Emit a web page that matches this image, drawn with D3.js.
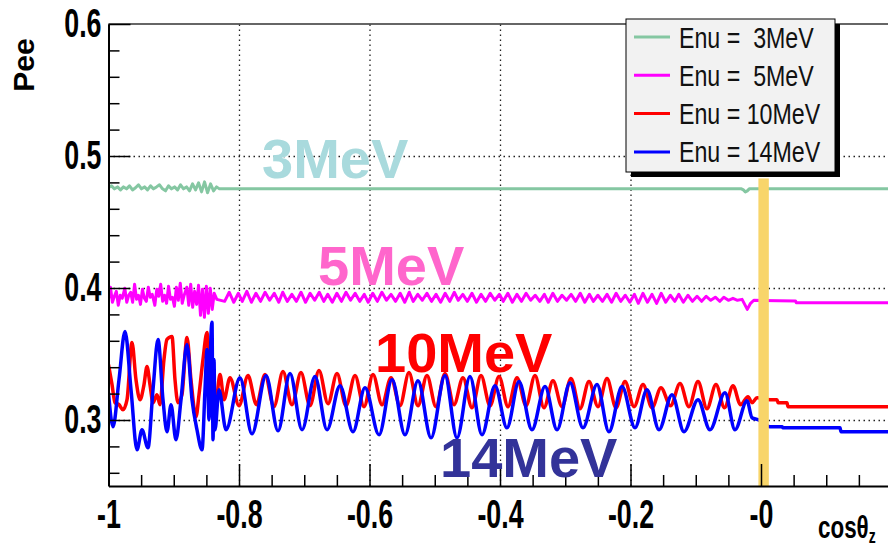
<!DOCTYPE html>
<html><head><meta charset="utf-8">
<script src="https://cdn.jsdelivr.net/npm/d3@7"></script>
<style>body{margin:0;background:#fff}svg{display:block}text{font-family:"Liberation Sans",Arial,sans-serif}</style>
</head><body><svg id="c" width="888" height="549"></svg>
<script>
// ---------------- data ----------------
const xTicks = [-1, -0.8, -0.6, -0.4, -0.2, 0];
const xTickLabels = ["-1", "-0.8", "-0.6", "-0.4", "-0.2", "-0"];
const yTicks = [0.3, 0.4, 0.5, 0.6];
const yTickLabels = ["0.3", "0.4", "0.5", "0.6"];
const xMinor = [-0.95,-0.9,-0.85,-0.75,-0.7,-0.65,-0.55,-0.5,-0.45,-0.35,-0.3,-0.25,-0.15,-0.1,-0.05,0.05,0.1,0.15];
const yMinor = [0.26,0.28,0.32,0.34,0.36,0.38,0.42,0.44,0.46,0.48,0.52,0.54,0.56,0.58];
const xGrid = [-0.8, -0.6, -0.4, -0.2, 0];
const yGrid = [0.3, 0.4, 0.5];
const highlightBand = [-0.004, 0.012];   // yellow band (cos range)
const highlightTop = 0.483;

const seriesNames = ["Enu =  3MeV", "Enu =  5MeV", "Enu = 10MeV", "Enu = 14MeV"];
const seriesColors = ["#85c7a2", "#ff00ff", "#ff0000", "#0000ff"];
const bigLabels = ["3MeV", "5MeV", "10MeV", "14MeV"];
const bigLabelColors = ["#a9dadd", "#ff66cc", "#ff0000", "#333399"];

const pee3 = [[-1,0.4759],[-0.9954,0.4774],[-0.9908,0.4751],[-0.9862,0.4766],[-0.9816,0.4743],[-0.977,0.4766],[-0.9724,0.4751],[-0.9678,0.4774],[-0.9632,0.4743],[-0.9586,0.4759],[-0.954,0.4782],[-0.9494,0.4751],[-0.9448,0.4766],[-0.9402,0.4743],[-0.9356,0.4774],[-0.931,0.4751],[-0.9264,0.4766],[-0.9218,0.4782],[-0.9172,0.4751],[-0.9126,0.4736],[-0.908,0.4774],[-0.9034,0.4751],[-0.8988,0.4766],[-0.8942,0.4743],[-0.8896,0.4782],[-0.885,0.4751],[-0.8804,0.4766],[-0.8758,0.4736],[-0.8712,0.4789],[-0.8666,0.4743],[-0.862,0.4797],[-0.8574,0.4728],[-0.8528,0.4804],[-0.8482,0.4721],[-0.8436,0.4789],[-0.839,0.4736],[-0.8344,0.4766],[-0.83,0.4751],[-0.03,0.4751],[-0.027,0.4743],[-0.024,0.4728],[-0.021,0.4736],[-0.018,0.4751],[0.2,0.4751]];

const pee5 = [[-1,0.3914],[-0.997,0.4006],[-0.994,0.3892],[-0.991,0.3937],[-0.988,0.3975],[-0.985,0.3869],[-0.982,0.3945],[-0.979,0.3922],[-0.975,0.3998],[-0.972,0.3892],[-0.969,0.3945],[-0.966,0.3968],[-0.963,0.3892],[-0.960,0.4029],[-0.957,0.3914],[-0.954,0.3945],[-0.951,0.3876],[-0.948,0.3990],[-0.945,0.3922],[-0.942,0.3899],[-0.939,0.4006],[-0.936,0.3930],[-0.933,0.3952],[-0.929,0.3869],[-0.926,0.3990],[-0.923,0.3937],[-0.920,0.4029],[-0.917,0.3899],[-0.914,0.3945],[-0.911,0.3884],[-0.908,0.4013],[-0.905,0.3914],[-0.902,0.3930],[-0.899,0.3861],[-0.896,0.4006],[-0.893,0.3907],[-0.890,0.4036],[-0.887,0.3884],[-0.884,0.3945],[-0.880,0.4006],[-0.877,0.3869],[-0.874,0.4029],[-0.871,0.3854],[-0.868,0.3975],[-0.865,0.3876],[-0.862,0.4021],[-0.859,0.3793],[-0.856,0.3990],[-0.853,0.3778],[-0.850,0.4013],[-0.847,0.3808],[-0.844,0.3998],[-0.841,0.3838],[-0.838,0.3960],[-0.834,0.3914],
[-0.822,0.3899],[-0.815,0.3968],[-0.808,0.3892],[-0.801,0.3960],[-0.795,0.3899],[-0.788,0.3975],[-0.781,0.3892],[-0.774,0.3960],[-0.767,0.3899],[-0.760,0.3968],[-0.753,0.3907],[-0.746,0.3960],[-0.739,0.3892],[-0.733,0.3968],[-0.726,0.3899],[-0.719,0.3952],[-0.712,0.3899],[-0.705,0.3968],[-0.698,0.3892],[-0.691,0.3960],[-0.684,0.3907],[-0.677,0.3968],[-0.670,0.3899],[-0.664,0.3952],[-0.657,0.3892],[-0.650,0.3960],[-0.643,0.3899],[-0.636,0.3968],[-0.629,0.3907],[-0.622,0.3960],[-0.615,0.3899],[-0.608,0.3952],[-0.602,0.3892],[-0.595,0.3960],[-0.588,0.3899],[-0.581,0.3968],[-0.574,0.3907],[-0.567,0.3952],[-0.560,0.3899],[-0.553,0.3960],[-0.546,0.3892],[-0.539,0.3968],[-0.533,0.3899],[-0.526,0.3952],[-0.519,0.3907],[-0.512,0.3960],[-0.505,0.3899],[-0.498,0.3952],[-0.491,0.3892],[-0.484,0.3960],[-0.477,0.3899],[-0.470,0.3968],[-0.464,0.3907],[-0.457,0.3952],[-0.450,0.3899],[-0.443,0.3960],[-0.436,0.3892],[-0.429,0.3952],[-0.422,0.3899],[-0.415,0.3960],[-0.408,0.3907],[-0.401,0.3952],[-0.395,0.3899],[-0.388,0.3960],[-0.381,0.3892],[-0.374,0.3952],[-0.367,0.3899],[-0.360,0.3960],[-0.353,0.3907],[-0.346,0.3945],[-0.339,0.3899],[-0.332,0.3952],[-0.326,0.3892],[-0.319,0.3960],[-0.312,0.3899],[-0.305,0.3945],[-0.298,0.3907],[-0.291,0.3952],[-0.284,0.3899],[-0.277,0.3960],[-0.270,0.3892],[-0.263,0.3952],[-0.257,0.3899],[-0.250,0.3945],[-0.243,0.3899],[-0.236,0.3952],[-0.229,0.3892],[-0.222,0.3960],[-0.215,0.3899],[-0.208,0.3945],[-0.201,0.3892],[-0.194,0.3952],[-0.188,0.3884],[-0.181,0.3960],[-0.174,0.3892],[-0.167,0.3952],[-0.160,0.3884],[-0.153,0.3960],[-0.146,0.3892],[-0.139,0.3945],[-0.132,0.3899],[-0.126,0.3952],[-0.119,0.3892],[-0.112,0.3945],[-0.105,0.3899],[-0.098,0.3937],[-0.091,0.3899],[-0.084,0.3937],[-0.077,0.3907],[-0.070,0.3930],[-0.063,0.3899],[-0.057,0.3930],[-0.050,0.3907],[-0.043,0.3922],[-0.036,0.3907],[-0.029,0.3914],
[-0.021,0.3838],[-0.016,0.3884],[-0.011,0.3907],[0.053,0.3902],[0.054,0.3889],[0.2,0.3889]];

const pee10 = [[-1,0.3420],[-0.9946,0.3268],[-0.9900,0.3131],[-0.9839,0.3116],[-0.9778,0.3078],[-0.9716,0.3154],[-0.9640,0.3587],[-0.9579,0.3306],[-0.9517,0.3154],[-0.9456,0.3268],[-0.9410,0.3405],[-0.9364,0.3268],[-0.9318,0.3131],[-0.9257,0.3192],[-0.9211,0.3116],[-0.9150,0.3458],[-0.9104,0.3610],[-0.9027,0.3633],[-0.8981,0.3306],[-0.8935,0.3131],[-0.8874,0.3192],[-0.8797,0.3625],[-0.8736,0.3306],[-0.8659,0.3025],[-0.8613,0.3192],[-0.8552,0.3458],[-0.8490,0.3663],[-0.8444,0.3192],[-0.8398,0.3283],[-0.8352,0.3154],[-0.8291,0.3344],[-0.8230,0.3154],
[-0.8138,0.3321],[-0.8000,0.3108],[-0.7862,0.3337],[-0.7732,0.3116],[-0.7602,0.3344],[-0.7464,0.3101],[-0.7326,0.3367],[-0.7188,0.3116],[-0.7050,0.3359],[-0.6912,0.3108],[-0.6774,0.3375],[-0.6636,0.3124],[-0.6498,0.3352],[-0.6360,0.3108],[-0.6222,0.3337],[-0.6084,0.3101],[-0.5946,0.3344],[-0.5808,0.3116],[-0.5670,0.3321],[-0.5533,0.3108],[-0.5395,0.3359],[-0.5257,0.3108],[-0.5119,0.3337],[-0.4981,0.3101],[-0.4843,0.3352],[-0.4705,0.3116],[-0.4567,0.3321],[-0.4429,0.3093],[-0.4291,0.3337],[-0.4153,0.3108],[-0.4015,0.3329],[-0.3877,0.3101],[-0.3739,0.3321],[-0.3601,0.3108],[-0.3464,0.3337],[-0.3326,0.3093],[-0.3188,0.3298],[-0.3050,0.3101],[-0.2912,0.3314],[-0.2774,0.3086],[-0.2636,0.3291],[-0.2498,0.3101],[-0.2360,0.3314],[-0.2222,0.3093],[-0.2084,0.3291],[-0.1946,0.3101],[-0.1808,0.3268],[-0.1670,0.3093],[-0.1533,0.3245],[-0.1387,0.3108],[-0.1241,0.3276],[-0.1104,0.3101],[-0.0966,0.3291],[-0.0828,0.3086],[-0.0690,0.3268],[-0.0559,0.3093],[-0.0429,0.3260],[-0.0314,0.3116],[-0.0199,0.3177],
[-0.0138,0.3131],[-0.0061,0.3169],[0.0138,0.3154],[0.0245,0.3154],[0.0261,0.3131],[0.0398,0.3131],[0.0414,0.3101],[0.2,0.3101]];

const pee14 = [[-1,0.3207],[-0.9931,0.2949],[-0.9839,0.3306],[-0.9747,0.3671],[-0.9655,0.3230],[-0.9563,0.2774],[-0.9487,0.2926],[-0.9395,0.2789],[-0.9318,0.3230],[-0.9241,0.3610],[-0.9165,0.3154],[-0.9103,0.2911],[-0.9042,0.3116],[-0.8966,0.2850],[-0.8889,0.3154],[-0.8797,0.3572],[-0.8720,0.3154],[-0.8644,0.2926],[-0.8567,0.2774],[-0.8521,0.3230],[-0.8490,0.3534],[-0.8460,0.3002],[-0.8429,0.3648],[-0.8414,0.3740],[-0.8398,0.2850],[-0.8383,0.3458],[-0.8368,0.2926],[-0.8307,0.3230],[-0.8199,0.2926],
[-0.7985,0.3321],[-0.7801,0.2895],[-0.7586,0.3337],[-0.7402,0.2918],[-0.7218,0.3352],[-0.7034,0.2926],[-0.6835,0.3329],[-0.6651,0.2926],[-0.6452,0.3260],[-0.6253,0.2911],[-0.6069,0.3245],[-0.5854,0.2888],[-0.5655,0.3306],[-0.5456,0.2888],[-0.5257,0.3298],[-0.5057,0.2865],[-0.4843,0.3337],[-0.4659,0.2865],[-0.4460,0.3329],[-0.4276,0.2888],[-0.4077,0.3260],[-0.3893,0.2941],[-0.3709,0.3291],[-0.3510,0.2926],[-0.3310,0.3253],[-0.3126,0.2926],[-0.2927,0.3283],[-0.2728,0.2941],[-0.2513,0.3268],[-0.2330,0.2911],[-0.2130,0.3253],[-0.1931,0.2941],[-0.1747,0.3230],[-0.1563,0.2926],[-0.1364,0.3192],[-0.1180,0.2911],[-0.0966,0.3154],[-0.0782,0.2926],[-0.0552,0.3207],[-0.0398,0.2926],[-0.0215,0.3146],
[-0.0138,0.3017],[-0.0046,0.3002],[0.0138,0.2949],[0.0322,0.2949],[0.0337,0.2941],[0.1211,0.2941],[0.1226,0.2911],[0.2,0.2911]];

const allSeries = [pee3, pee5, pee10, pee14];

// ---------------- drawing ----------------
const svg = d3.select("#c");
const L = 108.5, R = 891.5, T = 24, B = 486;
const x = d3.scaleLinear().domain([-1, 0.2]).range([L, R]);
const y = d3.scaleLinear().domain([0.25, 0.6]).range([B, T]);

svg.append("defs").append("clipPath").attr("id","clip")
  .append("rect").attr("x", L).attr("y", T).attr("width", 888 - L).attr("height", B - T);

// dotted grid
svg.append("g").attr("transform", `translate(0,${B})`)
  .call(d3.axisBottom(x).tickValues(xGrid).tickSize(-(B - T)).tickFormat(""))
  .call(g => { g.select(".domain").remove();
    g.selectAll("line").attr("stroke", "#222").attr("stroke-width", 1.3).attr("stroke-dasharray", "1.5,3.5"); });
svg.append("g").attr("transform", `translate(${L},0)`)
  .call(d3.axisLeft(y).tickValues(yGrid).tickSize(-(888 - L)).tickFormat(""))
  .call(g => { g.select(".domain").remove();
    g.selectAll("line").attr("stroke", "#222").attr("stroke-width", 1.3).attr("stroke-dasharray", "1.5,3.5"); });

// series lines
const lineLin = d3.line().x(d => x(d[0])).y(d => y(d[1]));
const lineSmooth = d3.line().x(d => x(d[0])).y(d => y(d[1])).curve(d3.curveMonotoneX);
const lg = svg.append("g").attr("clip-path", "url(#clip)");
allSeries.forEach((s, i) => {
  lg.append("path").attr("d", (i < 2 ? lineLin : lineSmooth)(s))
    .attr("fill", "none").attr("stroke", seriesColors[i])
    .attr("stroke-width", i < 2 ? 3 : 3.5).attr("stroke-linejoin", "round");
});

// highlight band
svg.append("rect")
  .attr("x", x(highlightBand[0])).attr("width", x(highlightBand[1]) - x(highlightBand[0]))
  .attr("y", y(highlightTop)).attr("height", y(0.25) - y(highlightTop))
  .attr("fill", "#f8d56a");

// top frame
svg.append("line").attr("x1", L).attr("x2", 888).attr("y1", T).attr("y2", T)
  .attr("stroke", "#333").attr("stroke-width", 1.5);

// minor ticks
svg.append("g").attr("transform", `translate(0,${B})`)
  .call(d3.axisBottom(x).tickValues(xMinor).tickSize(-11).tickSizeOuter(0).tickFormat(""))
  .call(g => { g.select(".domain").remove(); g.selectAll("line").attr("stroke", "#000").attr("stroke-width", 1.5); });
svg.append("g").attr("transform", `translate(${L},0)`)
  .call(d3.axisLeft(y).tickValues(yMinor).tickSize(-11).tickSizeOuter(0).tickFormat(""))
  .call(g => { g.select(".domain").remove(); g.selectAll("line").attr("stroke", "#000").attr("stroke-width", 1.5); });

// major axes
const sx = 0.67;
const xAxisG = svg.append("g").attr("transform", `translate(0,${B})`)
  .call(d3.axisBottom(x).tickValues(xTicks).tickSize(-22).tickSizeOuter(0).tickPadding(14)
    .tickFormat((d, i) => xTickLabels[i]));
xAxisG.select(".domain").attr("stroke", "#000").attr("stroke-width", 2);
xAxisG.selectAll(".tick line").attr("stroke", "#000").attr("stroke-width", 1.5);
xAxisG.selectAll(".tick text").attr("font-size", 40).attr("font-weight", "bold").attr("fill", "#000")
  .attr("font-family", "'Liberation Sans',Arial,sans-serif")
  .attr("transform", `scale(${sx},1)`);

const yAxisG = svg.append("g").attr("transform", `translate(${L},0)`)
  .call(d3.axisLeft(y).tickValues(yTicks).tickSize(-22).tickSizeOuter(0).tickPadding(7)
    .tickFormat((d, i) => yTickLabels[i]));
yAxisG.select(".domain").attr("stroke", "#000").attr("stroke-width", 2);
yAxisG.selectAll(".tick line").attr("stroke", "#000").attr("stroke-width", 1.5);
yAxisG.selectAll(".tick text").attr("font-size", 40).attr("font-weight", "bold").attr("fill", "#000")
  .attr("font-family", "'Liberation Sans',Arial,sans-serif")
  .attr("x", -7 / sx).attr("transform", `scale(${sx},1)`);

// axis titles
svg.append("text").attr("transform", "translate(34,65) rotate(-90)")
  .attr("text-anchor", "middle").attr("font-size", 30).attr("font-weight", "bold").text("Pee");
const xt = svg.append("text").attr("transform", "translate(818,538) scale(0.7,1)")
  .attr("font-size", 32).attr("font-weight", "bold");
xt.append("tspan").text("cos");
xt.append("tspan").text("θ");
xt.append("tspan").attr("font-size", 20).attr("dy", 5).text("z");

// big energy labels
const bigPos = [[262, 178], [318, 285], [375, 372], [440, 477]];
bigLabels.forEach((t, i) => {
  svg.append("text").attr("x", bigPos[i][0]).attr("y", bigPos[i][1])
    .attr("font-size", 56).attr("font-weight", "bold").attr("fill", bigLabelColors[i]).text(t);
});

// legend
const leg = svg.append("g");
leg.append("rect").attr("x", 631).attr("y", 24).attr("width", 209).attr("height", 153).attr("fill", "#000");
leg.append("rect").attr("x", 626).attr("y", 19).attr("width", 209).attr("height", 153)
  .attr("fill", "#f2f2f2").attr("stroke", "#000").attr("stroke-width", 1);
seriesNames.forEach((n, i) => {
  const ry = 37 + i * 38.3;
  leg.append("line").attr("x1", 634).attr("x2", 670).attr("y1", ry).attr("y2", ry)
    .attr("stroke", seriesColors[i]).attr("stroke-width", 3);
  leg.append("text").attr("transform", `translate(679,${ry + 10.5}) scale(0.8,1)`)
    .attr("font-size", 29).attr("fill", "#111").style("white-space", "pre").text(n);
});
</script></body></html>
